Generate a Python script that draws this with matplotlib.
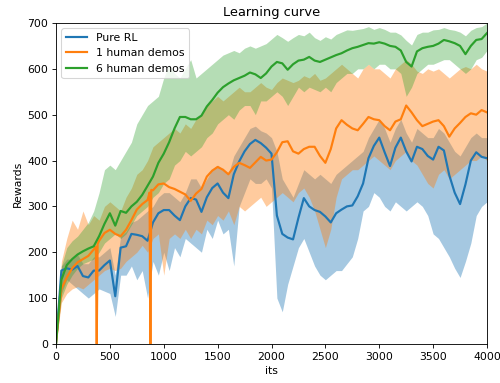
import numpy as np
import matplotlib
matplotlib.use("Agg")
import matplotlib.pyplot as plt

# iterations, sampled every 50 its
its = np.arange(0, 4001, 50)

# Pure RL
rl_mean = [0, 160, 165, 162, 170, 148, 145, 160, 160, 172, 182, 104, 210, 213, 240, 238, 235, 225, 265, 285,
           292, 292, 280, 270, 300, 318, 315, 288, 320, 340, 350, 330, 318, 370, 398, 420, 436, 445, 438, 428,
           415, 280, 240, 232, 228, 275, 318, 300, 292, 288, 278, 265, 285, 293, 300, 302, 322, 350, 405, 432,
           450, 418, 388, 428, 450, 420, 398, 430, 425, 410, 402, 430, 422, 368, 330, 305, 348, 400, 418, 408,
           405]
rl_low = [0, 110, 140, 130, 120, 110, 100, 110, 120, 115, 110, 60, 150, 150, 170, 140, 160, 100, 180, 150,
          200, 160, 210, 190, 230, 220, 210, 200, 250, 230, 270, 240, 250, 170, 300, 330, 360, 350, 350, 360,
          340, 100, 70, 130, 170, 210, 230, 200, 170, 150, 140, 150, 160, 160, 175, 190, 230, 290, 300, 330,
          320, 300, 290, 310, 300, 290, 300, 310, 300, 280, 240, 230, 210, 190, 165, 145, 180, 220, 280, 300,
          310]
rl_high = [0, 170, 185, 185, 195, 175, 175, 190, 190, 200, 210, 150, 235, 245, 265, 270, 280, 290, 300, 320,
           330, 330, 320, 310, 330, 360, 360, 340, 360, 380, 390, 380, 370, 410, 430, 450, 470, 475, 465, 460,
           450, 420, 360, 340, 320, 350, 380, 370, 360, 370, 360, 350, 370, 380, 390, 400, 410, 420, 450, 470,
           490, 470, 440, 470, 490, 460, 440, 470, 460, 450, 450, 470, 460, 440, 420, 410, 430, 450, 460, 450,
           450]

# 1 human demos
d1_mean = [0, 120, 145, 165, 178, 185, 192, 206, 225, 242, 249, 240, 235, 249, 270, 293, 305, 314, 335, 348,
           350, 342, 338, 332, 326, 312, 328, 338, 365, 378, 386, 380, 370, 386, 395, 390, 384, 396, 408, 400,
           402, 418, 440, 442, 420, 415, 425, 430, 430, 410, 395, 425, 470, 488, 478, 470, 466, 480, 495, 490,
           488, 475, 466, 485, 490, 520, 505, 488, 475, 480, 485, 488, 475, 452, 470, 482, 495, 503, 500, 510,
           505]
d1_low = [0, 90, 110, 120, 125, 120, 130, 140, 150, 160, 165, 160, 165, 180, 190, 200, 215, 200, 230, 240,
          150, 230, 240, 230, 250, 230, 250, 240, 270, 260, 280, 270, 290, 260, 300, 290, 300, 310, 320, 300,
          310, 320, 330, 320, 310, 330, 340, 320, 290, 250, 210, 250, 320, 360, 370, 380, 380, 390, 400, 410,
          400, 390, 380, 400, 410, 420, 400, 390, 370, 350, 340, 370, 380, 360, 370, 380, 390, 400, 400, 410,
          400]
d1_high = [0, 180, 230, 270, 250, 290, 260, 280, 270, 300, 310, 300, 290, 320, 340, 370, 380, 400, 430, 440,
           450, 460, 470, 460, 480, 470, 490, 500, 520, 530, 540, 530, 540, 550, 560, 550, 550, 560, 570, 560,
           555, 570, 580, 575, 570, 575, 585, 580, 590, 575, 580, 590, 600, 610, 600, 590, 580, 600, 610, 600,
           600, 590, 580, 600, 610, 620, 610, 595, 590, 600, 595, 600, 590, 580, 590, 600, 605, 600, 610, 600,
           595]
# two single-step collapses of the 1-demo run
d1_drop_its = [370, 378, 386, 868, 876, 884]
d1_drop_val = [212, 0, 218, 330, 0, 336]

# 6 human demos
d6_mean = [0, 140, 172, 185, 195, 202, 208, 213, 235, 262, 285, 258, 290, 286, 300, 310, 325, 345, 365, 395,
           415, 440, 470, 495, 495, 490, 490, 498, 518, 532, 548, 560, 568, 575, 580, 585, 592, 588, 580, 590,
           605, 615, 612, 598, 610, 618, 620, 626, 618, 615, 620, 625, 630, 634, 640, 645, 648, 652, 656, 655,
           658, 655, 650, 648, 640, 615, 605, 638, 645, 648, 650, 655, 663, 660, 656, 650, 632, 650, 663, 665,
           678]
d6_low = [0, 100, 130, 150, 165, 175, 180, 185, 200, 220, 230, 240, 230, 240, 260, 280, 290, 300, 320, 330,
          350, 360, 390, 400, 420, 410, 420, 430, 450, 460, 480, 490, 500, 490, 510, 520, 520, 500, 530, 530,
          540, 550, 540, 520, 540, 560, 550, 560, 555, 550, 560, 550, 570, 580, 590, 590, 600, 600, 610, 600,
          610, 610, 600, 600, 590, 540, 560, 590, 600, 610, 610, 615, 620, 620, 610, 600, 590, 600, 620, 625,
          640]
d6_high = [0, 170, 210, 225, 235, 250, 265, 290, 330, 380, 390, 380, 400, 420, 440, 480, 500, 520, 530, 540,
           580, 610, 590, 580, 600, 620, 580, 590, 600, 610, 620, 630, 635, 640, 635, 645, 650, 645, 650, 655,
           665, 675, 668, 660, 668, 675, 672, 680, 668, 662, 670, 665, 675, 680, 685, 684, 686, 688, 692, 686,
           690, 686, 680, 680, 674, 662, 652, 675, 680, 680, 685, 686, 690, 686, 684, 680, 672, 684, 690, 692,
           700]

labels = ["Pure RL", "1 human demos", "6 human demos"]
colors = ["tab:blue", "tab:orange", "tab:green"]
band_alpha = [0.4, 0.4, 0.35]

# put the collapse points into the 1-demo curve
d1_its = np.concatenate([its, d1_drop_its])
d1_vals = np.concatenate([d1_mean, d1_drop_val])
order = np.argsort(d1_its, kind="stable")
d1_its, d1_vals = d1_its[order], d1_vals[order]

fig, ax = plt.subplots(figsize=(6.4, 4.9024), dpi=78.125)
fig.subplots_adjust(left=0.112, right=0.974, top=0.94, bottom=0.102)

bands = [(rl_low, rl_high), (d1_low, d1_high), (d6_low, d6_high)]
for (lo, hi), c, a in zip(bands, colors, band_alpha):
    ax.fill_between(its, lo, hi, color=c, alpha=a, linewidth=0)

ax.plot(its, rl_mean, color=colors[0], lw=2, label=labels[0])
ax.plot(d1_its, d1_vals, color=colors[1], lw=2, label=labels[1])
ax.plot(its, d6_mean, color=colors[2], lw=2, label=labels[2])

ax.set_xlim(0, 4000)
ax.set_ylim(0, 700)
ax.set_title("Learning curve")
ax.set_xlabel("its")
ax.set_ylabel("Rewards")
ax.legend(loc="upper left")

fig.savefig("out.png", dpi=fig.dpi)
